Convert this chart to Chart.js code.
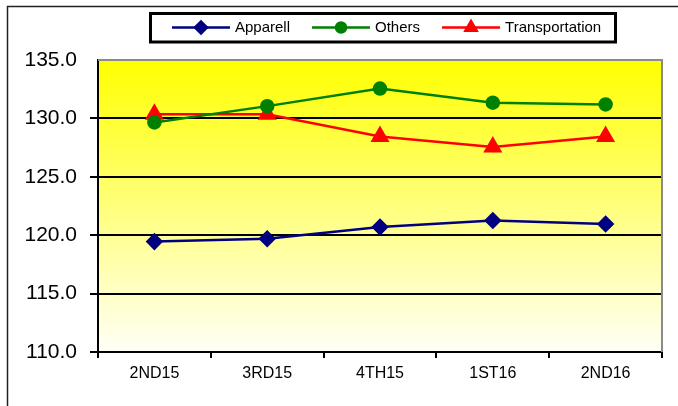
<!DOCTYPE html>
<html>
<head>
<meta charset="utf-8">
<script src="https://cdn.jsdelivr.net/npm/chart.js@4/dist/chart.umd.min.js"></script>
<style>
  html, body { margin: 0; padding: 0; background: #fff; }
  canvas { display: block; }
</style>
</head>
<body>
<canvas id="chart" width="678" height="406"></canvas>
<script>
// Chart data
const quarters = ["2ND15", "3RD15", "4TH15", "1ST16", "2ND16"];
const apparell = [119.45, 119.7, 120.7, 121.25, 120.95];
const others = [129.65, 131.05, 132.55, 131.35, 131.2];
const transportation = [130.35, 130.35, 128.45, 127.55, 128.45];
const yTicks = [110, 115, 120, 125, 130, 135];

const FONT = '"Liberation Sans", Arial, sans-serif';

// yellow fade behind the plot + grey top/right edges
const plotBackground = {
    id: "plotBackground",
    beforeDraw(chart) {
        const { ctx, chartArea: a } = chart;
        const g = ctx.createLinearGradient(0, a.top, 0, a.bottom);
        g.addColorStop(0, "#ffff00");
        g.addColorStop(1, "#fffff8");
        ctx.save();
        ctx.fillStyle = g;
        ctx.fillRect(a.left, a.top, a.right - a.left, a.bottom - a.top);
        ctx.restore();
    },
    beforeDatasetsDraw(chart) {
        const { ctx, chartArea: a } = chart;
        ctx.save();
        ctx.strokeStyle = "#8a8a8a";
        ctx.lineWidth = 2;
        ctx.beginPath();
        ctx.moveTo(a.left, a.top);
        ctx.lineTo(a.right, a.top);
        ctx.lineTo(a.right, a.bottom);
        ctx.stroke();
        ctx.restore();
    }
};

// boxed legend with line + marker, and the outer frame
const boxLegend = {
    id: "boxLegend",
    afterDraw(chart) {
        const ctx = chart.ctx;
        ctx.save();
        // outer frame (top and left only visible)
        ctx.strokeStyle = "#222";
        ctx.lineWidth = 1.5;
        ctx.beginPath();
        ctx.moveTo(7.5, 406);
        ctx.lineTo(7.5, 6.5);
        ctx.lineTo(678, 6.5);
        ctx.stroke();

        ctx.strokeStyle = "#000";
        ctx.lineWidth = 3;
        ctx.strokeRect(150.5, 13.5, 465, 28.5);

        ctx.font = "15px " + FONT;
        ctx.textBaseline = "middle";
        ctx.textAlign = "left";
        const y = 27.5;
        let x = 172;
        const sizes = [6, 5, 6.5];
        chart.data.datasets.forEach((ds, i) => {
            ctx.strokeStyle = ds.borderColor;
            ctx.fillStyle = ds.borderColor;
            ctx.lineWidth = 2.5;
            ctx.beginPath();
            ctx.moveTo(x, y);
            ctx.lineTo(x + 58, y);
            ctx.stroke();
            Chart.helpers.drawPoint(ctx, {
                pointStyle: ds.pointStyle, radius: sizes[i], borderWidth: 1, rotation: 0
            }, x + 29, y);
            ctx.fillStyle = "#000";
            ctx.fillText(ds.label, x + 63, y);
            x += 63 + ctx.measureText(ds.label).width + 22;
        });
        ctx.restore();
    }
};

new Chart(document.getElementById("chart"), {
    type: "line",
    data: {
        labels: quarters,
        datasets: [
            {
                label: "Apparell", data: apparell,
                borderColor: "#000080", backgroundColor: "#000080",
                pointStyle: "rectRot", pointRadius: 7, borderWidth: 2.5
            },
            {
                label: "Others", data: others,
                borderColor: "#008000", backgroundColor: "#008000",
                pointStyle: "circle", pointRadius: 6, borderWidth: 2.5
            },
            {
                label: "Transportation", data: transportation,
                borderColor: "#ff0000", backgroundColor: "#ff0000",
                pointStyle: "triangle", pointRadius: 8.5, borderWidth: 2.5
            }
        ]
    },
    options: {
        responsive: false,
        animation: false,
        devicePixelRatio: 1,
        layout: { padding: { top: 60, right: 16, left: 0, bottom: 0 } },
        plugins: {
            legend: { display: false },
            tooltip: { enabled: false }
        },
        elements: { line: { tension: 0 }, point: { borderWidth: 1 } },
        scales: {
            x: {
                offset: true,
                grid: {
                    offset: true, drawOnChartArea: false, drawTicks: true,
                    tickLength: 6, color: "#000", lineWidth: 2
                },
                border: { display: true, color: "#000", width: 2 },
                ticks: { color: "#000", font: { family: FONT, size: 16 }, padding: 6, maxRotation: 0 },
                afterFit(scale) { scale.height = 54; }
            },
            y: {
                min: yTicks[0],
                max: yTicks[yTicks.length - 1],
                afterBuildTicks(scale) { scale.ticks = yTicks.map(v => ({ value: v })); },
                grid: {
                    color: c => (c.tick && c.tick.value === 135 ? "rgba(0,0,0,0)" : "#000"),
                    lineWidth: 2, tickLength: 8
                },
                border: { display: true, color: "#000", width: 2 },
                ticks: {
                    color: "#000", font: { family: FONT, size: 21 }, padding: 13,
                    callback: v => Number(v).toFixed(1)
                },
                afterFit(scale) { scale.width = 98; }
            }
        }
    },
    plugins: [plotBackground, boxLegend]
});
</script>
</body>
</html>
